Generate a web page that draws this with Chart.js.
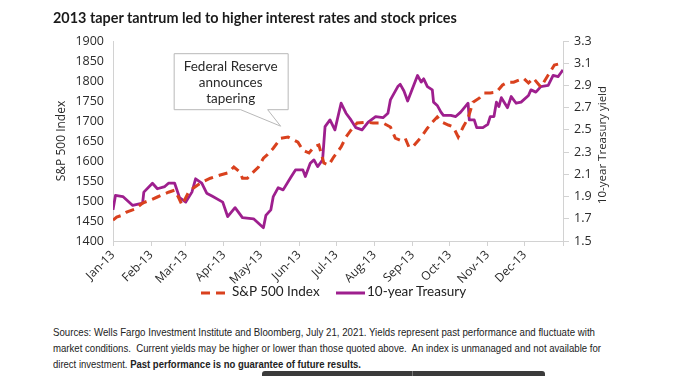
<!DOCTYPE html>
<html>
<head>
<meta charset="utf-8">
<script src="https://cdn.jsdelivr.net/npm/chart.js@4/dist/chart.umd.min.js"></script>
<style>
  html, body { margin:0; padding:0; background:#fff; width:700px; height:376px; overflow:hidden; }
  #wrap { position:relative; width:700px; height:376px; }
  #title { position:absolute; left:53px; top:9px; font-family:Lato, "Open Sans", sans-serif; font-weight:bold; font-size:14.4px; color:#1a1a1a; white-space:nowrap; }
  #cv { position:absolute; left:0; top:0; }
  #legend { position:absolute; top:281px; left:0; width:700px; height:20px; font-family:Lato, "Open Sans", sans-serif; font-size:13.5px; color:#222; }
  .li { position:absolute; top:0; height:20px; line-height:20px; white-space:nowrap; }
  .sw { display:inline-block; vertical-align:middle; margin-right:2px; }
  .src { position:absolute; left:53px; font-family:"Liberation Sans", Arial, sans-serif; font-size:11.2px; line-height:14px; color:#222; white-space:nowrap; transform-origin:0 50%; }
  #bar { position:absolute; left:262px; top:371px; width:283px; height:5px; background:#3b3b3b; border-radius:3px 3px 0 0; }
  #bar2 { position:absolute; left:412px; top:371px; width:1px; height:5px; background:#777; }
</style>
</head>
<body>
<div id="wrap">
  <canvas id="cv" width="700" height="300"></canvas>
  <div id="title">2013 taper tantrum led to higher interest rates and stock prices</div>
  <div id="legend">
    <div class="li" style="left:201px"><svg class="sw" width="29" height="6"><line x1="0" y1="3" x2="29" y2="3" stroke="#D9411E" stroke-width="3" stroke-dasharray="9,6"/></svg>S&amp;P 500 Index</div>
    <div class="li" style="left:336px"><svg class="sw" width="29" height="6"><line x1="0" y1="3" x2="29" y2="3" stroke="#9E1F8E" stroke-width="3"/></svg>10-year Treasury</div>
  </div>
  <div class="src" data-w="542" style="top:325px">Sources: Wells Fargo Investment Institute and Bloomberg, July 21, 2021. Yields represent past performance and fluctuate with</div>
  <div class="src" data-w="548" style="top:341px">market conditions.&nbsp; Current yields may be higher or lower than those quoted above.&nbsp; An index is unmanaged and not available for</div>
  <div class="src" data-w="308" style="top:357px">direct investment. <b>Past performance is no guarantee of future results.</b></div>
  <div id="bar"></div><div id="bar2"></div>
</div>
<script>
// fit the narrow source lines to their measured widths in the reference
document.querySelectorAll('.src').forEach(el => {
  const w = el.getBoundingClientRect().width;
  el.style.transform = 'scaleX(' + (parseFloat(el.dataset.w) / w) + ')';
});

// ---- Data (day of year 2013, value) ----
const monthLabels = ['Jan-13','Feb-13','Mar-13','Apr-13','May-13','Jun-13','Jul-13','Aug-13','Sep-13','Oct-13','Nov-13','Dec-13'];
const monthStartDays = [0,31,59,90,120,151,181,212,243,273,304,334];
const yearEndDay = 365;

const leftTicks = [1400,1450,1500,1550,1600,1650,1700,1750,1800,1850,1900];
const rightTicks = [1.5,1.7,1.9,2.1,2.3,2.5,2.7,2.9,3.1,3.3];

const spDays = [0,3,8,11,18,24,30,36,45,50,53,56,61,65,72,79,87,93,98,103,105,109,113,118,122,125,130,136,142,150,154,159,163,167,171,175,179,185,189,193,198,205,211,219,225,229,233,237,240,243,250,255,259,263,267,272,276,280,284,288,292,297,301,306,311,316,320,325,333,337,341,347,353,358,365];
const spValues = [1452,1460,1465,1472,1480,1495,1502,1510,1522,1527,1510,1490,1520,1532,1547,1557,1565,1570,1585,1572,1557,1557,1570,1585,1607,1615,1632,1657,1660,1647,1627,1620,1635,1640,1595,1590,1610,1635,1660,1677,1695,1697,1695,1695,1685,1657,1652,1657,1635,1635,1660,1682,1697,1710,1697,1690,1685,1660,1685,1707,1747,1757,1770,1770,1772,1790,1797,1797,1807,1795,1807,1785,1815,1840,1845];

const tyDays = [0,2,8,16,24,25,32,36,42,45,50,54,59,64,67,72,76,81,89,93,99,105,114,120,122,124,128,130,134,138,144,148,154,156,160,163,166,168,170,172,176,180,185,189,193,197,202,207,213,219,223,225,231,233,236,239,247,250,252,255,259,260,263,266,268,274,278,282,285,288,289,293,295,300,304,306,309,311,313,315,320,323,327,331,337,339,343,347,353,357,361,363,365];
const tyValues = [1.78,1.91,1.90,1.82,1.84,1.94,2.02,1.97,1.99,2.02,2.02,1.89,1.85,1.94,2.06,2.02,1.93,1.90,1.85,1.72,1.80,1.71,1.70,1.64,1.62,1.73,1.78,1.90,1.98,1.96,2.07,2.14,2.14,2.08,2.20,2.23,2.17,2.20,2.23,2.53,2.59,2.50,2.74,2.65,2.59,2.52,2.50,2.57,2.62,2.61,2.65,2.77,2.89,2.91,2.85,2.76,2.99,2.93,2.96,2.89,2.86,2.75,2.72,2.66,2.63,2.63,2.62,2.66,2.70,2.74,2.59,2.59,2.52,2.52,2.55,2.62,2.62,2.75,2.71,2.79,2.70,2.80,2.74,2.75,2.81,2.86,2.84,2.89,2.90,2.99,2.98,3.01,3.04];

const calloutLines = ['Federal Reserve','announces','tapering'];
const calloutDay = 136, calloutValue = 1687;
const rightTitle = '10-year Treasury yield';

const RED = '#D9411E', PURPLE = '#9E1F8E', AXIS = '#d2d2d2', TXT = '#2a2a2a';
const tickFont = { family: '"Open Sans", Lato, sans-serif', size: 12.5 };

const extrasPlugin = {
  id: 'extras',
  afterDatasetsDraw(chart) {
    const ctx = chart.ctx;
    const tx = chart.scales.x.getPixelForValue(calloutDay);
    const ty = chart.scales.y.getPixelForValue(calloutValue);
    const L = tx - 107, R = tx + 7, T = ty - 73, B = ty - 17;
    ctx.save();
    ctx.beginPath();
    ctx.moveTo(L + 0.5, T + 0.5);
    ctx.lineTo(R + 0.5, T + 0.5);
    ctx.lineTo(R + 0.5, B + 0.5);
    ctx.lineTo(tx - 13, B + 0.5);
    ctx.lineTo(tx, ty);
    ctx.lineTo(tx - 40, B + 0.5);
    ctx.lineTo(L + 0.5, B + 0.5);
    ctx.closePath();
    ctx.fillStyle = '#fff';
    ctx.fill();
    ctx.strokeStyle = '#b8b8b8';
    ctx.lineWidth = 1;
    ctx.stroke();
    ctx.fillStyle = '#2a2a2a';
    ctx.font = '13.5px Lato, "Open Sans", sans-serif';
    ctx.textAlign = 'center';
    ctx.textBaseline = 'middle';
    const cx = (L + R) / 2;
    calloutLines.forEach((s, i) => ctx.fillText(s, cx, T + 13 + i * 16));
    // right axis title, reading bottom-to-top
    const ca = chart.chartArea;
    ctx.translate(ca.right + 40, 145);
    ctx.rotate(-Math.PI / 2);
    ctx.font = '11.5px "Open Sans", Lato, sans-serif';
    ctx.fillStyle = TXT;
    ctx.fillText(rightTitle, 0, 0);
    ctx.restore();
  }
};

new Chart(document.getElementById('cv'), {
  type: 'line',
  data: {
    datasets: [
      { label: 'S&P 500 Index', data: spDays.map((d, i) => ({ x: d, y: spValues[i] })), yAxisID: 'y',
        borderColor: RED, borderWidth: 3, borderDash: [9, 6], borderCapStyle: 'butt', pointRadius: 0, tension: 0, fill: false },
      { label: '10-year Treasury', data: tyDays.map((d, i) => ({ x: d, y: tyValues[i] })), yAxisID: 'y1',
        borderColor: PURPLE, borderWidth: 2.8, pointRadius: 0, tension: 0, fill: false, borderJoinStyle: 'round' }
    ]
  },
  options: {
    responsive: false, animation: false,
    layout: { padding: { left: 54, right: 91, top: 41, bottom: 0 } },
    plugins: { legend: { display: false }, tooltip: { enabled: false } },
    scales: {
      x: {
        type: 'linear', min: 0, max: yearEndDay,
        afterBuildTicks: s => { s.ticks = monthStartDays.concat([yearEndDay]).map(v => ({ value: v })); },
        afterFit: s => { s.height = 59; },
        ticks: { autoSkip: false, maxRotation: 45, minRotation: 45, font: { family: '"Open Sans", Lato, sans-serif', size: 12 }, color: TXT, padding: 2,
                 callback: v => { const i = monthStartDays.indexOf(v); return i >= 0 ? monthLabels[i] : ''; } },
        grid: { drawOnChartArea: false, drawTicks: true, tickLength: 5, color: AXIS },
        border: { display: true, color: AXIS }
      },
      y: {
        position: 'left', min: 1400, max: 1900,
        afterBuildTicks: s => { s.ticks = leftTicks.map(v => ({ value: v })); },
        afterFit: s => { s.width = 59; },
        ticks: { font: tickFont, color: TXT, padding: 9, callback: v => String(v) },
        grid: { drawOnChartArea: false, drawTicks: false, color: AXIS },
        border: { display: true, color: AXIS },
        title: { display: true, text: 'S&P 500 Index', font: { family: '"Open Sans", Lato, sans-serif', size: 12 }, color: TXT, padding: { top: 0, bottom: 0 } }
      },
      y1: {
        position: 'right', min: 1.5, max: 3.3,
        afterBuildTicks: s => { s.ticks = rightTicks.map(v => ({ value: v })); },
        afterFit: s => { s.width = 46; },
        ticks: { font: tickFont, color: TXT, padding: 5, callback: v => Number(v).toFixed(1) },
        grid: { drawOnChartArea: false, drawTicks: true, tickLength: 6, color: AXIS },
        border: { display: true, color: AXIS }
      }
    }
  },
  plugins: [extrasPlugin]
});
</script>
</body>
</html>
